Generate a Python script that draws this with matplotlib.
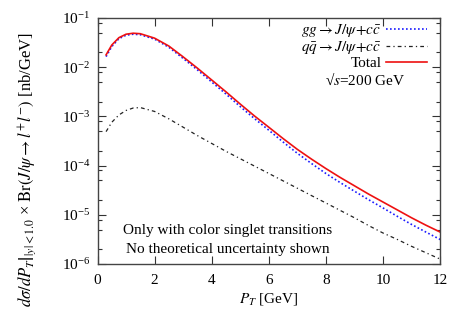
import matplotlib
matplotlib.use("Agg")
import matplotlib.pyplot as plt
from matplotlib.ticker import LogLocator, NullFormatter
import numpy as np

plt.rcParams['font.family'] = 'serif'
plt.rcParams['font.serif'] = ['Liberation Serif', 'DejaVu Serif']
plt.rcParams['mathtext.fontset'] = 'stix'

pt = [0.3, 0.5, 0.75, 1.0, 1.25, 1.5, 2.0, 2.5, 3.0, 3.5, 4.0, 4.5, 5.0, 5.5,
      6.0, 6.5, 7.0, 7.5, 8.0, 8.5, 9.0, 9.5, 10.0, 10.5, 11.0, 11.5, 12.0, 12.2]

total = [1.78e-2, 2.82e-2, 3.98e-2, 4.68e-2, 4.90e-2, 4.79e-2, 3.89e-2, 2.69e-2,
         1.62e-2, 9.55e-3, 5.50e-3, 3.16e-3, 1.78e-3, 1.02e-3, 6.03e-4, 3.55e-4,
         2.14e-4, 1.35e-4, 8.71e-5, 5.75e-5, 3.89e-5, 2.63e-5, 1.82e-5, 1.26e-5,
         8.71e-6, 6.17e-6, 4.47e-6, 3.89e-6]

gg = [1.64e-2, 2.63e-2, 3.80e-2, 4.47e-2, 4.68e-2, 4.57e-2, 3.72e-2, 2.54e-2,
      1.51e-2, 8.81e-3, 5.01e-3, 2.85e-3, 1.58e-3, 9.02e-4, 5.25e-4, 3.02e-4,
      1.78e-4, 1.10e-4, 6.92e-5, 4.52e-5, 3.02e-5, 2.02e-5, 1.38e-5, 9.33e-6,
      6.38e-6, 4.47e-6, 3.16e-6, 2.72e-6]

qq = [4.90e-4, 7.59e-4, 1.07e-3, 1.32e-3, 1.48e-3, 1.51e-3, 1.26e-3, 8.91e-4,
      6.03e-4, 4.07e-4, 2.82e-4, 1.95e-4, 1.38e-4, 9.77e-5, 6.92e-5, 4.90e-5,
      3.47e-5, 2.45e-5, 1.74e-5, 1.23e-5, 8.71e-6, 6.03e-6, 4.27e-6, 3.16e-6,
      2.29e-6, 1.70e-6, 1.26e-6, 1.12e-6]

xticks = [0, 2, 4, 6, 8, 10, 12]
labels = [r'$gg \to J/\psi\!+\!c\bar{c}$', r'$q\bar{q} \to J/\psi\!+\!c\bar{c}$', 'Total']

fig = plt.figure(figsize=(4.67, 3.27), dpi=100)
ax = fig.add_axes([0.2088, 0.1927, 0.9422 - 0.2088, 0.945 - 0.1927])

ax.plot(pt, gg, color='#1a1aff', lw=1.2, ls=(0, (1, 1.4)), label=labels[0])
ax.plot(pt, qq, color='#222222', lw=0.9, ls=(0, (3, 2.5, 1, 2.5)), label=labels[1])
ax.plot(pt, total, color='#ee1111', lw=1.2, ls='-', label=labels[2])

ax.set_yscale('log')
ax.set_xlim(0, 12)
ax.set_ylim(1e-6, 1e-1)
ax.set_xticks(xticks)
ax.set_xticklabels([str(t) for t in xticks])
ax.yaxis.set_major_locator(LogLocator(base=10, numticks=10))
ax.yaxis.set_minor_locator(LogLocator(base=10, subs=[2, 5, 8], numticks=10))
ax.yaxis.set_minor_formatter(NullFormatter())

ax.tick_params(which='both', direction='in', top=True, right=True, labelsize=11,
               color='#333333')
ax.tick_params(which='major', length=6, width=0.8)
ax.tick_params(which='minor', length=3, width=0.8)
ax.tick_params(axis='x', pad=7)
ax.tick_params(axis='y', pad=5)
for s in ax.spines.values():
    s.set_linewidth(1.0)
    s.set_color('#444444')

ax.set_xlabel(r'$P_T$ [GeV]', fontsize=11, labelpad=3)
ax.set_ylabel(r'$\left.d\sigma/dP_T\right|_{|y|<1.0}$ × $\mathrm{Br}(J/\psi \to l^{+}l^{-})$ [nb/GeV]',
              fontsize=12)
ax.yaxis.set_label_coords(-0.172, 0.385)

leg = ax.legend(loc='upper right', bbox_to_anchor=(0.99, 1.02), frameon=False,
                markerfirst=False, fontsize=11, handlelength=2.7,
                handletextpad=0.3, labelspacing=0.0, borderaxespad=0.2)
for t in leg.get_texts():
    t.set_ha('right')

ax.text(0.78, 0.748, '√$s$=200 GeV', transform=ax.transAxes,
        ha='center', va='center', fontsize=11)
ax.text(0.38, 0.138, 'Only with color singlet transitions', transform=ax.transAxes,
        ha='center', va='center', fontsize=11)
ax.text(0.38, 0.06, 'No theoretical uncertainty shown', transform=ax.transAxes,
        ha='center', va='center', fontsize=11)

fig.savefig('out.png', dpi=100)
